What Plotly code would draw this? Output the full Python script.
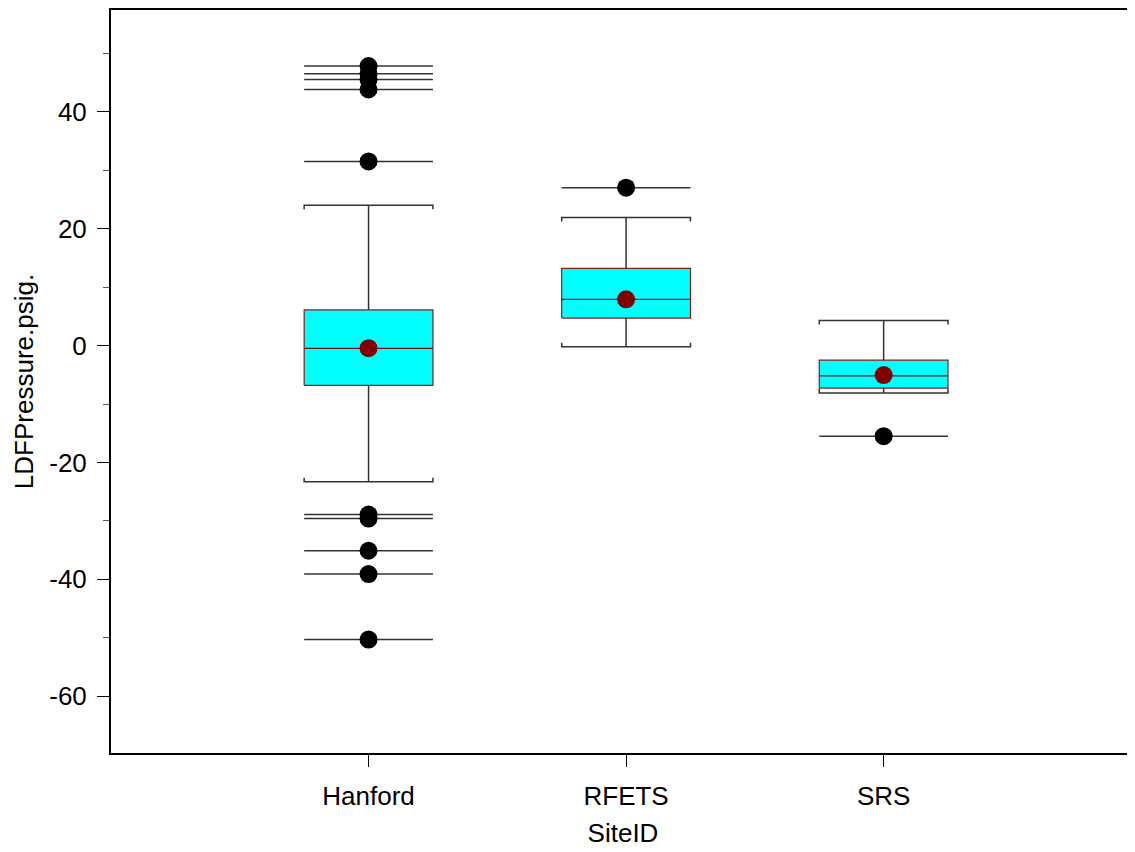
import plotly.graph_objects as go

# ---------------- data ----------------
sites = ["Hanford", "RFETS", "SRS"]
q1 = [-6.8, 4.7, -7.3]
median = [-0.5, 7.9, -5.2]
q3 = [6.1, 13.2, -2.5]
lower_whisker = [-23.3, -0.2, -8.1]
upper_whisker = [24.0, 21.9, 4.3]
means = [-0.45, 7.9, -5.05]
outliers = [
    [47.8, 46.5, 45.5, 43.8, 31.5, -28.9, -29.6, -35.1, -39.1, -50.3],
    [27.0],
    [-15.5],
]
y_ticks = [-60, -40, -20, 0, 20, 40]
y_ticklabels = ["-60", "-40", "-20", "0", "20", "40"]
y_minor = [-70, -50, -30, -10, 10, 30, 50]

# ---------------- styling ----------------
HW = 0.25          # half box width (category units)
CAP = 0.7          # cap end tick length (data units)
FONT = "Liberation Sans, Arial, sans-serif"
FS = 26

xs = list(range(len(sites)))
fig = go.Figure()

# boxes
for i in xs:
    fig.add_trace(go.Scatter(
        x=[i - HW, i + HW, i + HW, i - HW, i - HW],
        y=[q1[i], q1[i], q3[i], q3[i], q1[i]],
        mode="lines", fill="toself", fillcolor="#00FFFF",
        line=dict(color="#8B1A1A", width=1.2), hoverinfo="skip", showlegend=False))

# whiskers and caps
wx, wy = [], []
for i in xs:
    wx += [i, i, None, i, i, None]
    wy += [q3[i], upper_whisker[i], None, q1[i], lower_whisker[i], None]
    wx += [i - HW, i - HW, i + HW, i + HW, None]
    wy += [upper_whisker[i] - CAP, upper_whisker[i], upper_whisker[i], upper_whisker[i] - CAP, None]
    wx += [i - HW, i - HW, i + HW, i + HW, None]
    wy += [lower_whisker[i] + CAP, lower_whisker[i], lower_whisker[i], lower_whisker[i] + CAP, None]
fig.add_trace(go.Scatter(x=wx, y=wy, mode="lines",
                         line=dict(color="#333333", width=1.5),
                         hoverinfo="skip", showlegend=False))

# median lines
mx, my = [], []
for i in xs:
    mx += [i - HW, i + HW, None]
    my += [median[i], median[i], None]
fig.add_trace(go.Scatter(x=mx, y=my, mode="lines",
                         line=dict(color="#7A1010", width=1.2),
                         hoverinfo="skip", showlegend=False))

# outlier lines and dots
ox, oy, px, py = [], [], [], []
for i in xs:
    for v in outliers[i]:
        ox += [i - HW, i + HW, None]
        oy += [v, v, None]
        px.append(i)
        py.append(v)
fig.add_trace(go.Scatter(x=ox, y=oy, mode="lines",
                         line=dict(color="#333333", width=1.5),
                         hoverinfo="skip", showlegend=False))
fig.add_trace(go.Scatter(x=px, y=py, mode="markers",
                         marker=dict(color="black", size=18),
                         showlegend=False))

# mean dots
fig.add_trace(go.Scatter(x=xs, y=means, mode="markers",
                         marker=dict(color="#800000", size=18),
                         showlegend=False))

fig.update_layout(
    width=1127, height=844,
    margin=dict(l=103, r=0, t=0, b=99),
    paper_bgcolor="white", plot_bgcolor="white",
    font=dict(family=FONT, size=FS, color="black"),
    showlegend=False,
    xaxis=dict(
        range=[-1.0, 2.976], tickmode="array", tickvals=xs, ticktext=sites,
        ticks="outside", ticklen=12, tickwidth=1, tickcolor="black",
        ticklabelstandoff=7,
        showline=True, linecolor="black", linewidth=2, mirror=True,
        showgrid=False, zeroline=False,
        title=dict(text="SiteID", font=dict(family=FONT, size=FS), standoff=14),
    ),
    yaxis=dict(
        range=[-69.7, 57.4], tickmode="array", tickvals=y_ticks, ticktext=y_ticklabels,
        ticks="outside", ticklen=12, tickwidth=1, tickcolor="black",
        ticklabelstandoff=5,
        minor=dict(ticks="outside", ticklen=6, tickwidth=1, tickcolor="#555555",
                   tickmode="array", tickvals=y_minor),
        showline=True, linecolor="black", linewidth=2, mirror=False,
        showgrid=False, zeroline=False,
        title=dict(text="LDFPressure.psig.", font=dict(family=FONT, size=FS), standoff=8),
    ),
)

fig.write_html("out.html")
